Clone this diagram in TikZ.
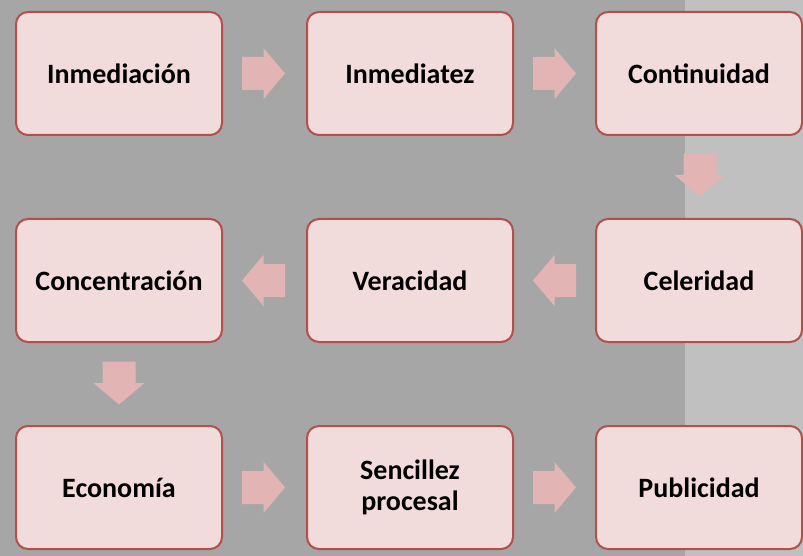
\documentclass[tikz,border=0pt]{standalone}
\usepackage{fontspec}
\setmainfont{Carlito}
\definecolor{bgdark}{HTML}{A6A6A6}
\definecolor{bglight}{HTML}{C0C0C0}
\definecolor{boxfill}{HTML}{F2DCDB}
\definecolor{boxline}{HTML}{B4504C}
\definecolor{arrfill}{HTML}{E2B4B4}
\tikzset{
  box/.style={draw=boxline, line width=2pt, fill=boxfill, rounded corners=12pt,
    minimum width=206pt, minimum height=123pt, inner sep=0pt, align=center,
    font=\fontsize{28pt}{31pt}\selectfont\bfseries, text=black},
  blockarrow/.pic={\fill[arrfill] (-21.5,-16.5) -- (0,-16.5) -- (0,-25.5) -- (21.5,0)
     -- (0,25.5) -- (0,16.5) -- (-21.5,16.5) -- cycle;}
}
\begin{document}
\begin{tikzpicture}[x=1pt,y=-1pt]
\useasboundingbox (0,0) rectangle (803,556);
\fill[bgdark] (0,0) rectangle (685,556);
\fill[bglight] (685,0) rectangle (803,556);
% boxes
\node[box] (a1) at (119,73.5) {Inmediación};
\node[box] (a2) at (410,73.5) {Inmediatez};
\node[box] (a3) at (699,73.5) {Continuidad};
\node[box] (b3) at (699,280.5) {Celeridad};
\node[box] (b2) at (410,280.5) {Veracidad};
\node[box] (b1) at (119,280.5) {Concentración};
\node[box] (c1) at (119,487.5) {Economía};
\node[box] (c2) at (410,487.5) {Sencillez\\procesal};
\node[box] (c3) at (699,487.5) {Publicidad};
% block arrows
\pic (r1) at (263.5,73.5) {blockarrow};
\pic (r2) at (554.5,73.5) {blockarrow};
\pic[rotate=-90] (d1) at (700,175) {blockarrow};
\pic[rotate=180] (l1) at (554.5,280.5) {blockarrow};
\pic[rotate=180] (l2) at (263.5,280.5) {blockarrow};
\pic[rotate=-90] (d2) at (119,383) {blockarrow};
\pic (r3) at (263.5,487.5) {blockarrow};
\pic (r4) at (554.5,487.5) {blockarrow};
\end{tikzpicture}
\end{document}
